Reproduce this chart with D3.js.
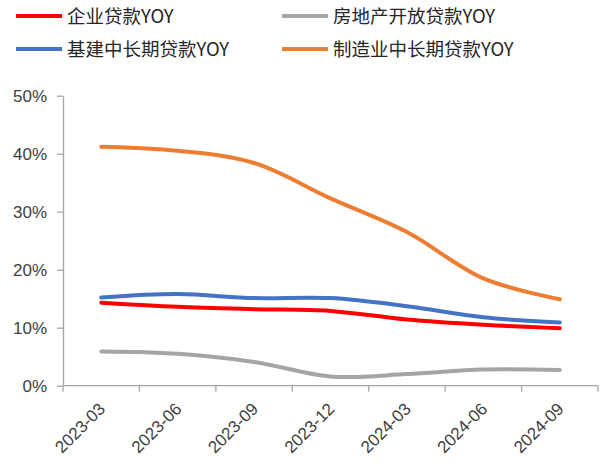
<!DOCTYPE html>
<html>
<head>
<meta charset="utf-8">
<script src="https://cdn.jsdelivr.net/npm/d3@7"></script>
<style>
  body { margin: 0; background: #fff; }
  svg text { font-family: "Liberation Sans", Arial, sans-serif; }
</style>
</head>
<body>
<div id="chart"></div>
<script>
// quarter labels
var months = ["2023-03", "2023-06", "2023-09", "2023-12", "2024-03", "2024-06", "2024-09"];

// series values (%)
var qiyeLoans = [14.3, 13.6, 13.2, 12.9, 11.4, 10.5, 9.9];
var fdcLoans = [5.9, 5.5, 4.1, 1.6, 2.0, 2.8, 2.7];
var jijianLoans = [15.2, 15.8, 15.1, 15.1, 13.7, 11.8, 10.9];
var zhizaoLoans = [41.2, 40.5, 38.4, 32.3, 26.5, 18.5, 14.9];

var seriesNames = ["企业贷款YOY", "房地产开放贷款YOY", "基建中长期贷款YOY", "制造业中长期贷款YOY"];
var seriesColors = ["#ff0000", "#a5a5a5", "#4472c4", "#ed7d31"];
var yTicks = [0, 10, 20, 30, 40, 50];

var width = 603;
var height = 467;

var svg = d3.select("#chart").append("svg")
	.attr("width", width)
	.attr("height", height);

var x = d3.scaleBand()
	.domain(months)
	.range([63, 598]);

var y = d3.scaleLinear()
	.domain([0, 50])
	.range([385.7, 95.7]);

//y axis
var yAxis = svg.append("g")
	.attr("transform", "translate(63,0)")
	.call(d3.axisLeft(y).tickValues(yTicks).tickSize(6).tickSizeOuter(0).tickFormat(function(d){ return d + "%"; }));
yAxis.select(".domain").attr("stroke", "#a6a6a6").attr("stroke-width", 1.3);
yAxis.selectAll(".tick line").attr("stroke", "#a6a6a6").attr("stroke-width", 1.3);
yAxis.selectAll(".tick text")
	.attr("x", -16)
	.attr("font-size", "17px")
	.attr("fill", "#404040")
	.style("font-family", "'Liberation Sans', Arial, sans-serif");

//x axis: line + ticks at category boundaries
var xAxis = svg.append("g");
xAxis.append("line")
	.attr("x1", x.range()[0])
	.attr("x2", x.range()[1])
	.attr("y1", y(0))
	.attr("y2", y(0))
	.attr("stroke", "#a6a6a6")
	.attr("stroke-width", 1.3);

var bounds = months.map(function(m){ return x(m); });
bounds.push(x.range()[1]);
xAxis.selectAll(".xtick")
	.data(bounds)
	.enter().append("line")
	.attr("x1", function(d){ return d; })
	.attr("x2", function(d){ return d; })
	.attr("y1", y(0))
	.attr("y2", y(0) + 6)
	.attr("stroke", "#a6a6a6")
	.attr("stroke-width", 1.3);

xAxis.selectAll(".xlabel")
	.data(months)
	.enter().append("text")
	.attr("transform", function(d){
		return "translate(" + (x(d) + x.bandwidth() / 2 + 5) + "," + 410 + ") rotate(-45)";
	})
	.attr("text-anchor", "end")
	.attr("font-size", "17px")
	.attr("fill", "#404040")
	.text(function(d){ return d; });

//lines
var allSeries = [qiyeLoans, fdcLoans, jijianLoans, zhizaoLoans];
var line = d3.line()
	.x(function(d, i){ return x(months[i]) + x.bandwidth() / 2; })
	.y(function(d){ return y(d); })
	.curve(d3.curveCatmullRom.alpha(0.5));

// draw in order gray, red, blue, orange so orange ends on top
[1, 0, 2, 3].forEach(function(k){
	svg.append("path")
		.datum(allSeries[k])
		.attr("d", line)
		.attr("fill", "none")
		.attr("stroke", seriesColors[k])
		.attr("stroke-width", 4)
		.attr("stroke-linecap", "round");
});

//legend
var legendPos = [[16, 16], [282, 16], [16, 49], [282, 49]];
seriesNames.forEach(function(name, i){
	var g = svg.append("g")
		.attr("transform", "translate(" + legendPos[i][0] + "," + legendPos[i][1] + ")");
	g.append("line")
		.attr("x1", 0)
		.attr("x2", 46)
		.attr("y1", 0)
		.attr("y2", 0)
		.attr("stroke", seriesColors[i])
		.attr("stroke-width", 4);
	g.append("text")
		.attr("x", 51)
		.attr("y", 0)
		.attr("dy", "0.36em")
		.attr("font-size", "18.5px")
		.attr("fill", "#262626")
		.style("font-family", "'Noto Sans CJK SC', 'Liberation Sans', sans-serif")
		.text(name);
});
</script>
</body>
</html>
